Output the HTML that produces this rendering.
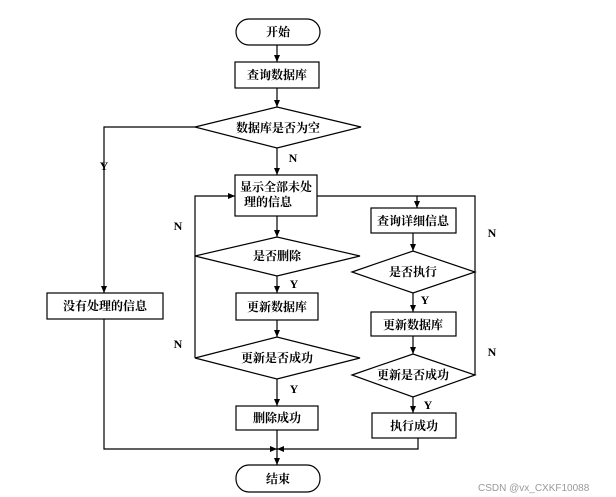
<!DOCTYPE html>
<html><head><meta charset="utf-8"><style>
html,body{margin:0;padding:0;background:#fff;}
svg{display:block;}
text{font-family:"Liberation Serif","Noto Serif CJK SC",serif;font-weight:bold;font-size:12px;fill:#000;}
.l{fill:none;stroke:#000;stroke-width:1.2;}
</style></head><body>
<svg width="616" height="497" viewBox="0 0 616 497">
<defs><marker id="a" markerWidth="8" markerHeight="8" refX="7" refY="4" orient="auto" markerUnits="userSpaceOnUse"><path d="M0,1 L7,4 L0,7 Z" fill="#000"/></marker></defs>
<g class="l">
<rect x="236" y="19" width="84" height="26" rx="13"/>
<rect x="235" y="62" width="84" height="26"/>
<polygon points="195,127 277,107 361,127 277,148"/>
<rect x="47" y="293" width="116" height="26"/>
<rect x="235" y="175" width="82" height="41"/>
<polygon points="195,256 277,237 360,256 277,276"/>
<rect x="236" y="293" width="82" height="27"/>
<polygon points="195,358 277,337 360,358 277,379"/>
<rect x="236" y="406" width="82" height="24"/>
<rect x="371" y="208" width="85" height="25"/>
<polygon points="352,272 413,251 475,272 413,293"/>
<rect x="371" y="312" width="85" height="24"/>
<polygon points="352,375 413,354 475,375 413,397"/>
<rect x="372" y="413" width="84" height="25"/>
<rect x="236" y="465" width="84" height="27" rx="13"/>
<line x1="277" y1="45" x2="277" y2="62" marker-end="url(#a)"/>
<line x1="277" y1="88" x2="277" y2="107" marker-end="url(#a)"/>
<line x1="277" y1="148" x2="277" y2="175" marker-end="url(#a)"/>
<polyline points="195,127 104,127 104,293" marker-end="url(#a)"/>
<line x1="277" y1="216" x2="277" y2="237" marker-end="url(#a)"/>
<line x1="277" y1="276" x2="277" y2="293" marker-end="url(#a)"/>
<line x1="277" y1="320" x2="277" y2="337" marker-end="url(#a)"/>
<line x1="277" y1="379" x2="277" y2="406" marker-end="url(#a)"/>
<line x1="277" y1="430" x2="277" y2="465" marker-end="url(#a)"/>
<polyline points="195,358 195,196 235,196" marker-end="url(#a)"/>
<polyline points="317,196 475,196 475,375"/>
<polyline points="417,196 417,208" marker-end="url(#a)"/>
<line x1="413" y1="233" x2="413" y2="251" marker-end="url(#a)"/>
<line x1="413" y1="293" x2="413" y2="312" marker-end="url(#a)"/>
<line x1="413" y1="336" x2="413" y2="354" marker-end="url(#a)"/>
<line x1="413" y1="397" x2="413" y2="413" marker-end="url(#a)"/>
<polyline points="104,319 104,449 277,449" marker-end="url(#a)"/>
<polyline points="418,438 418,449 277,449" marker-end="url(#a)"/>
</g>
<g text-anchor="middle">
<text x="278" y="36">开始</text>
<text x="277" y="79">查询数据库</text>
<text x="278" y="132">数据库是否为空</text>
<text x="105" y="310">没有处理的信息</text>
<text x="276" y="191">显示全部未处</text>
<text x="268" y="206">理的信息</text>
<text x="277" y="260">是否删除</text>
<text x="277" y="311">更新数据库</text>
<text x="277" y="362">更新是否成功</text>
<text x="277" y="422">删除成功</text>
<text x="413" y="225">查询详细信息</text>
<text x="413" y="276">是否执行</text>
<text x="413" y="329">更新数据库</text>
<text x="413" y="379">更新是否成功</text>
<text x="414" y="430">执行成功</text>
<text x="278" y="483">结束</text>
<text x="104" y="170">Y</text>
<text x="293" y="162">N</text>
<text x="294" y="288">Y</text>
<text x="294" y="393">Y</text>
<text x="178" y="230">N</text>
<text x="178" y="348">N</text>
<text x="425" y="304">Y</text>
<text x="428" y="409">Y</text>
<text x="492" y="237">N</text>
<text x="492" y="356">N</text>
</g>
<text x="478" y="491" style="font-family:'Liberation Sans',sans-serif;font-weight:normal;font-size:10px;fill:#999">CSDN @vx_CXKF10088</text>
</svg>
</body></html>
